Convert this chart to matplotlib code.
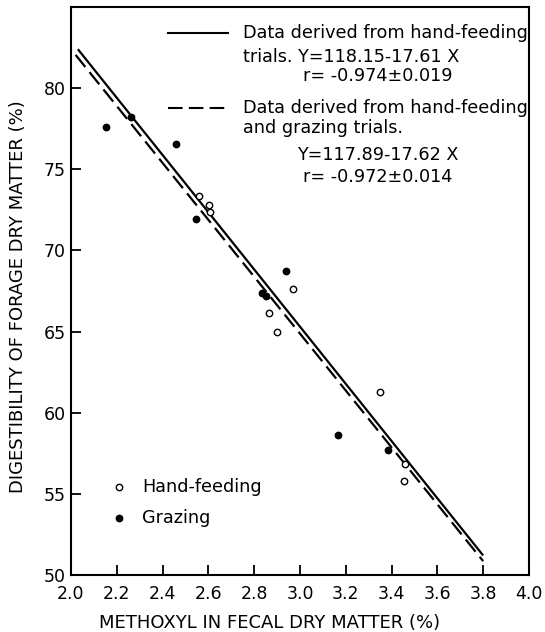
import numpy as np
import matplotlib
matplotlib.use("Agg")
import matplotlib.pyplot as plt

plt.rcParams['font.family'] = ['DejaVu Sans']

# hand-feeding trials (open circles)
hand_x = [2.56, 2.603, 2.608, 2.969, 2.866, 2.901, 3.351, 3.460, 3.454]
hand_y = [73.37, 72.78, 72.37, 67.60, 66.12, 64.95, 61.25, 56.87, 55.80]

# grazing trials (filled circles)
graze_x = [2.153, 2.262, 2.459, 2.545, 2.939, 2.835, 2.850, 3.166, 3.383]
graze_y = [77.60, 78.21, 76.57, 71.96, 68.75, 67.40, 67.20, 58.65, 57.68]

# regression lines, end points as drawn in the figure
hand_line_x = [2.03, 3.80]
hand_line_y = [82.40, 51.20]
all_line_x = [2.02, 3.80]
all_line_y = [82.05, 50.85]

xticks = [2.0, 2.2, 2.4, 2.6, 2.8, 3.0, 3.2, 3.4, 3.6, 3.8, 4.0]
yticks = [50, 55, 60, 65, 70, 75, 80]

fig = plt.figure(figsize=(5.45, 6.32), dpi=100)
ax = fig.add_axes([71/545, 57/632, 458/545, 568/632])

ax.plot(hand_line_x, hand_line_y, color='black', lw=1.6, solid_capstyle='butt')
ax.plot(all_line_x, all_line_y, color='black', lw=1.6, dashes=(7, 3))

ax.plot(hand_x, hand_y, 'o', ms=4.6, mfc='white', mec='black', mew=1.0)
ax.plot(graze_x, graze_y, 'o', ms=4.6, mfc='black', mec='black', mew=1.0)

ax.set_xlim(2.0, 4.0)
ax.set_ylim(50, 85)
ax.set_xticks(xticks)
ax.set_xticklabels([f"{t:.1f}" for t in xticks])
ax.set_yticks(yticks)
ax.tick_params(direction='in', length=7, width=1.3, labelsize=12.5,
               top=False, right=False)
ax.tick_params(axis='x', pad=7)
ax.tick_params(axis='y', pad=4)
for s in ax.spines.values():
    s.set_linewidth(1.5)

ax.set_xlabel("METHOXYL IN FECAL DRY MATTER (%)", fontsize=13)
ax.xaxis.set_label_coords(0.4345, -0.068)
ax.set_ylabel("DIGESTIBILITY OF FORAGE DRY MATTER (%)", fontsize=13)
ax.yaxis.set_label_coords(-0.095, 0.49)

# legend for the lines, upper right
tf = ax.transAxes
fs = 12.7
ax.plot([0.212, 0.343], [0.954, 0.954], color='black', lw=1.5, transform=tf)
ax.text(0.3755, 0.954, "Data derived from hand-feeding", transform=tf, fontsize=fs, va='center')
ax.text(0.3755, 0.912, "trials. Y=118.15-17.61 X", transform=tf, fontsize=fs, va='center')
ax.text(0.5066, 0.8785, "r= -0.974\u00b10.019", transform=tf, fontsize=fs, va='center')

ax.plot([0.212, 0.343], [0.822, 0.822], color='black', lw=1.5, dashes=(7, 3), transform=tf)
ax.text(0.3755, 0.822, "Data derived from hand-feeding", transform=tf, fontsize=fs, va='center')
ax.text(0.3755, 0.787, "and grazing trials.", transform=tf, fontsize=fs, va='center')
ax.text(0.4934, 0.739, "Y=117.89-17.62 X", transform=tf, fontsize=fs, va='center')
ax.text(0.5066, 0.701, "r= -0.972\u00b10.014", transform=tf, fontsize=fs, va='center')

# legend for the points, lower left
ax.plot([0.105], [0.155], 'o', ms=4.6, mfc='white', mec='black', mew=1.0, transform=tf)
ax.text(0.155, 0.155, "Hand-feeding", transform=tf, fontsize=fs, va='center')
ax.plot([0.105], [0.100], 'o', ms=4.6, mfc='black', mec='black', mew=1.0, transform=tf)
ax.text(0.155, 0.100, "Grazing", transform=tf, fontsize=fs, va='center')

fig.savefig("out.png", dpi=100)
